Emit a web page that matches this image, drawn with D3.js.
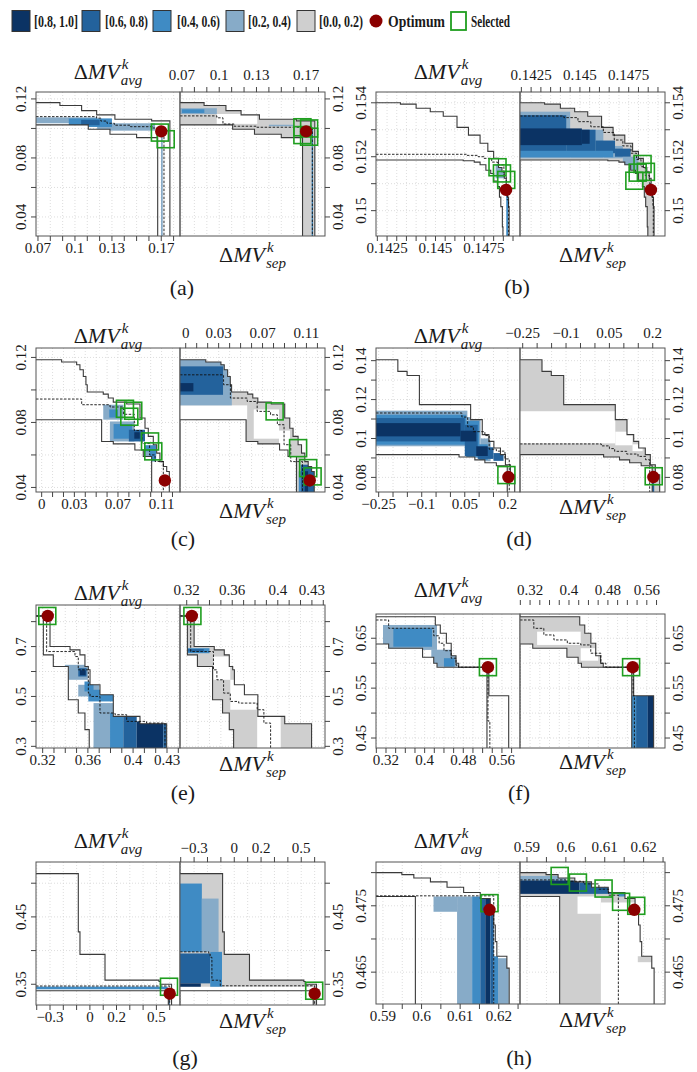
<!DOCTYPE html>
<html><head><meta charset="utf-8">
<script src="https://cdn.jsdelivr.net/npm/d3@7"></script>
<style>
body{margin:0;background:#fff;}
svg, svg text, svg tspan{font-family:"Liberation Serif","Times New Roman",Times,"DejaVu Serif",serif;}
svg text{fill:#1a1a1a;}
</style></head><body>
<svg id="chart" width="697" height="1072" font-family="Liberation Serif, Times New Roman, Times, serif"></svg>
<script>
// ---------------- DATA ----------------
// legend
const legendLabels = ['[0.8, 1.0]','[0.6, 0.8)','[0.4, 0.6)','[0.2, 0.4)','[0.0, 0.2)'];
const legendLevels = [4,3,2,1,0];
const levelColors = {'-1':'#ffffff','0':'#cfcfcf','1':'#87abc8','2':'#3f8bc4','3':'#23629c','4':'#0b3364'};

// (a)
const aXDom=[0.0684,0.1852], aYDom=[0.0271,0.1247];
const aXTicks=[0.07,0.08,0.09,0.1,0.11,0.12,0.13,0.14,0.15,0.16,0.17,0.18];
const aXLabels=[0.07,0.1,0.13,0.17];
const aYTicks=[0.04,0.06,0.08,0.1,0.12], aYLabels=[0.04,0.08,0.12];
const aBest=[[0.0684,0.1175],[0.0878,0.1155],[0.1054,0.1121],[0.1176,0.1092],[0.1324,0.1062],[0.1622,0.1051],[0.177,0.0271]];
const aWorst=[[0.0684,0.1024],[0.1108,0.0995],[0.1284,0.0961],[0.15,0.0938],[0.1671,0.0271]];
const aMedL=[[0.0684,0.108],[0.1176,0.107],[0.121,0.105],[0.126,0.1035],[0.132,0.1022],[0.145,0.1012],[0.163,0.1003],[0.1722,0.0271]];
const aMedR=[[0.0684,0.1085],[0.0981,0.1072],[0.103,0.103],[0.112,0.1015],[0.13,0.1008],[0.175,0.0271]];
const aFillL=[[0.0684,0.1035,0.118,0.1075,1],[0.118,0.0985,0.165,0.1035,1],[0.095,0.101,0.13,0.1068,2],[0.105,0.1022,0.12,0.1058,3],[0.1698,0.0271,0.1712,0.095,1]];
const aFillR=[[0.098,0.1031,0.1306,0.1098,-1],[0.0684,0.1098,0.0981,0.1137,1],[0.07,0.1105,0.088,0.113,2],[0.14,0.1015,0.16,0.1025,1],[0.1745,0.0271,0.1755,0.099,2]];
const aSelL=[[0.1689,0.0972],[0.1736,0.0927]];
const aSelR=[[0.167,0.1008],[0.1724,0.1],[0.1724,0.0944],[0.167,0.0955]];
const aOpt=[0.170,0.098];

// (b)
const bXDom=[0.14193,0.14936], bYDom=[0.14906,0.1544];
const bXTicks=[0.142,0.1425,0.143,0.1435,0.144,0.1445,0.145,0.1455,0.146,0.1465,0.147,0.1475,0.148,0.1485,0.149];
const bXLabels=[0.1425,0.145,0.1475];
const bYTicks=[0.15,0.151,0.152,0.153,0.154], bYLabels=[0.15,0.152,0.154];
const bBest=[[0.14193,0.154],[0.14319,0.15395],[0.1440,0.1538],[0.14473,0.15367],[0.1454,0.1535],[0.14611,0.15309],[0.1467,0.1528],[0.1473,0.1525],[0.1477,0.1522],[0.1480,0.15194],[0.14825,0.1516],[0.14843,0.15144],[0.14855,0.1512],[0.14865,0.15089],[0.14872,0.1505],[0.14877,0.15015],[0.1488,0.14906]];
const bWorst=[[0.14193,0.15188],[0.14643,0.15185],[0.147,0.1518],[0.1473,0.1517],[0.1476,0.1515],[0.14785,0.15138],[0.148,0.1511],[0.1482,0.15089],[0.1483,0.1505],[0.14837,0.15015],[0.14845,0.1494],[0.14848,0.14906]];
const bMedL=[[0.14193,0.15209],[0.14662,0.15205],[0.1472,0.152],[0.1475,0.15194],[0.1479,0.1518],[0.1482,0.1517],[0.14853,0.15127],[0.14865,0.1508],[0.1487,0.1504],[0.14877,0.14906]];
const bMedR=[[0.14193,0.15351],[0.14418,0.15345],[0.1449,0.1533],[0.14556,0.15311],[0.1462,0.1529],[0.14676,0.15262],[0.1472,0.1524],[0.14762,0.15213],[0.1479,0.1519],[0.14813,0.15163],[0.14835,0.1513],[0.14857,0.151],[0.14868,0.1505],[0.14874,0.15015],[0.14876,0.14906]];
const bFillL=[[0.1481,0.1512,0.1487,0.1517,1],[0.14865,0.14906,0.14875,0.151,2]];
const bFillR=[[0.14193,0.15194,0.1445,0.15367,1],[0.1445,0.15194,0.1462,0.1530,1],[0.1462,0.15194,0.1472,0.1524,1],[0.1472,0.1515,0.1480,0.1520,1],
  [0.14193,0.15213,0.1443,0.15354,3],[0.1443,0.15213,0.1458,0.1530,3],[0.1458,0.15213,0.1468,0.1526,3],[0.1468,0.1520,0.1476,0.1523,3],
  [0.14193,0.15198,0.1467,0.15222,2],[0.14193,0.15243,0.1451,0.15305,4],[0.1451,0.15248,0.1455,0.1530,4]];
const bSelL=[[0.1482,0.15161],[0.14843,0.15138],[0.14865,0.15114]];
const bSelR=[[0.14821,0.15173],[0.14796,0.15141],[0.14779,0.15111],[0.14838,0.15144]];
const bOpt=[0.14864,0.15077];

// (c)
const cXDom=[-0.0052,0.1269], cYDom=[0.0372,0.1258];
const cXTicks=[0,0.01,0.02,0.03,0.04,0.05,0.06,0.07,0.08,0.09,0.1,0.11,0.12];
const cXLabels=[0,0.03,0.07,0.11];
const cYTicks=[0.04,0.06,0.08,0.1,0.12], cYLabels=[0.04,0.08,0.12];
const cBest=[[-0.0052,0.1186],[0.0183,0.1172],[0.0321,0.1155],[0.0351,0.1124],[0.0382,0.1083],[0.0406,0.1032],[0.0418,0.0987],[0.0565,0.0974],[0.0611,0.095],[0.0657,0.0925],[0.078,0.0913],[0.0902,0.0827],[0.0948,0.0764],[0.0978,0.0714],[0.1024,0.0663],[0.1055,0.0611],[0.1085,0.0559],[0.1116,0.0529],[0.1147,0.0498],[0.1171,0.0372]];
const cWorst=[[-0.0052,0.0817],[0.055,0.0683],[0.0657,0.0668],[0.0855,0.063],[0.0932,0.059],[0.1009,0.0372]];
const cMedL=[[-0.0052,0.0944],[0.0367,0.0909],[0.0627,0.0895],[0.075,0.085],[0.085,0.075],[0.092,0.067],[0.099,0.06],[0.104,0.056],[0.1116,0.0372]];
const cMedR=[[-0.0052,0.1093],[0.0345,0.1032],[0.0407,0.095],[0.056,0.0929],[0.0651,0.0868],[0.0773,0.0847],[0.0835,0.0786],[0.0896,0.0663],[0.0957,0.0559],[0.1064,0.0372]];
const cFillL=[[0.0565,0.0817,0.075,0.0909,1],[0.062,0.083,0.07,0.088,2],[0.0626,0.0683,0.085,0.0806,1],[0.066,0.070,0.083,0.079,2],[0.080,0.0683,0.0948,0.0755,3],[0.085,0.070,0.090,0.074,4],[0.0948,0.056,0.105,0.066,2],[0.094,0.056,0.099,0.0622,1]];
const cFillR=[[-0.0052,0.0817,0.056,0.0905,-1],[0.062,0.070,0.085,0.088,-1],[0.085,0.060,0.095,0.075,-1],
  [-0.0052,0.0905,0.042,0.1186,1],[-0.0052,0.097,0.034,0.1145,3],[-0.0052,0.0991,0.007,0.1042,4],
  [0.103,0.0372,0.1049,0.05,2],[0.1049,0.0372,0.117,0.054,3],[0.1085,0.0372,0.1115,0.05,4]];
const cSelL=[[0.0764,0.0884],[0.084,0.0872],[0.0804,0.0835],[0.0994,0.0683],[0.1024,0.0622]];
const cSelR=[[0.081,0.0868],[0.1024,0.0642],[0.1116,0.0519],[0.1156,0.0468]];
const cOpt=[0.113,0.0443];

// (d)
const dXDom=[-0.2593,0.2424], dYDom=[0.0725,0.1465];
const dXTicks=[-0.25,-0.2,-0.15,-0.1,-0.05,0,0.05,0.1,0.15,0.2];
const dXLabels=[-0.25,-0.1,0.05,0.2];
const dYTicks=[0.08,0.09,0.1,0.11,0.12,0.13,0.14], dYLabels=[0.08,0.1,0.12,0.14];
const dBest=[[-0.2593,0.1405],[-0.1832,0.1345],[-0.151,0.1324],[-0.1081,0.1174],[0.0704,0.1097],[0.1109,0.102],[0.1341,0.0985],[0.1514,0.0951],[0.1743,0.0917],[0.1916,0.0865],[0.2089,0.0814],[0.224,0.0725]];
const dWorst=[[-0.2593,0.0917],[0.03,0.0905],[0.085,0.089],[0.12,0.0875],[0.16,0.086],[0.198,0.0725]];
const dMedL=[[-0.2593,0.1131],[0.04,0.111],[0.06,0.106],[0.08,0.1035],[0.12,0.1015],[0.135,0.0945],[0.16,0.0935],[0.19,0.0895],[0.205,0.0725]];
const dMedR=[[-0.2593,0.0972],[0.022,0.0962],[0.05,0.0948],[0.0683,0.0934],[0.11,0.092],[0.149,0.0908],[0.175,0.0891],[0.1894,0.0725]];
const dFillL=[[-0.2593,0.096,0.059,0.1143,1],[0.059,0.090,0.105,0.111,1],[0.105,0.0883,0.14,0.100,1],
  [-0.2593,0.0968,0.055,0.1122,2],[0.055,0.0905,0.10,0.109,2],[0.10,0.089,0.13,0.097,2],
  [-0.2593,0.0985,0.05,0.1105,3],[0.05,0.091,0.095,0.107,3],[0.095,0.0895,0.15,0.0955,3],[0.15,0.0885,0.185,0.0925,3],
  [-0.2593,0.1011,0.035,0.1079,4],[0.035,0.0985,0.09,0.104,4],[0.09,0.091,0.13,0.096,4]];
const dFillR=[[-0.2593,0.0975,0.0704,0.1140,-1],[0.0704,0.0965,0.13,0.1035,-1],[0.13,0.0935,0.165,0.097,-1],[0.195,0.0725,0.205,0.078,3]];
const dSelL=[[0.195,0.0812]], dSelR=[[0.2033,0.0806]];
const dOpt=[0.202,0.0802];

// (e)
const eXDom=[0.3141,0.4415], eYDom=[0.2933,0.8667];
const eXTicks=[0.32,0.33,0.34,0.35,0.36,0.37,0.38,0.39,0.4,0.41,0.42,0.43,0.44];
const eXLabels=[0.32,0.36,0.4,0.43];
const eYTicks=[0.3,0.4,0.5,0.6,0.7,0.8], eYLabels=[0.3,0.5,0.7];
const eBest=[[0.3141,0.8228],[0.3265,0.7],[0.3442,0.6867],[0.353,0.6668],[0.3574,0.62],[0.3604,0.6068],[0.3619,0.5468],[0.3707,0.5068],[0.3825,0.42],[0.4061,0.3908],[0.4297,0.2933]];
const eWorst=[[0.3141,0.8228],[0.3206,0.6668],[0.3294,0.62],[0.3427,0.4868],[0.3515,0.4336],[0.3574,0.3668],[0.3612,0.2933]];
const eMedL=[[0.3141,0.8228],[0.3235,0.68],[0.3486,0.66],[0.3515,0.6068],[0.3604,0.5135],[0.3619,0.5],[0.3707,0.4336],[0.384,0.4268],[0.3943,0.4],[0.4119,0.3934],[0.4282,0.2933]];
const eMedR=[[0.3141,0.8228],[0.3235,0.68],[0.3435,0.6068],[0.3465,0.5668],[0.3524,0.5135],[0.3583,0.48],[0.3657,0.4734],[0.3819,0.4468],[0.3878,0.3934],[0.3937,0.2933]];
const eFillL=[[0.3397,0.5668,0.36,0.6268,1],[0.3515,0.58,0.3589,0.6134,3],[0.353,0.585,0.358,0.605,4],[0.3515,0.5,0.37,0.5468,1],[0.357,0.52,0.365,0.56,2],[0.3604,0.48,0.3825,0.5268,2],
  [0.365,0.2933,0.3796,0.4734,1],[0.3796,0.2933,0.3913,0.4336,2],[0.3796,0.4336,0.39,0.4734,1],[0.3913,0.2933,0.4032,0.42,3],[0.4032,0.2933,0.4267,0.40,4],[0.4267,0.2933,0.4297,0.39,3]];
const eFillR=[[0.3435,0.5668,0.3583,0.66,-1],[0.3583,0.4468,0.3849,0.5668,-1],[0.3819,0.2933,0.4026,0.4468,-1],[0.3835,0.4535,0.387,0.4734,1],[0.3141,0.6734,0.34,0.6934,2],[0.32,0.68,0.335,0.69,3]];
const eSelL=[[0.3241,0.8228]], eSelR=[[0.325,0.8228]];
const eOpt=[0.3245,0.8228];

// (f)
const fXDom=[0.2993,0.5974], fYDom=[0.43,0.6986];
const fXTicks=[0.30,0.32,0.34,0.36,0.38,0.40,0.42,0.44,0.46,0.48,0.50,0.52,0.54,0.56,0.58];
const fXLabels=[0.32,0.4,0.48,0.56];
const fYTicks=[0.45,0.5,0.55,0.6,0.65,0.7], fYLabels=[0.45,0.55,0.65];
const fBest=[[0.2993,0.6932],[0.4221,0.6766],[0.4324,0.66],[0.445,0.64],[0.455,0.615],[0.465,0.60],[0.4705,0.592],[0.533,0.5346],[0.574,0.43]];
const fWorst=[[0.2993,0.6386],[0.3255,0.63],[0.3957,0.612],[0.4188,0.60],[0.4256,0.592],[0.529,0.43]];
const fMedL=[[0.2993,0.6866],[0.3255,0.67],[0.4188,0.655],[0.43,0.64],[0.44,0.625],[0.455,0.61],[0.465,0.596],[0.47,0.592],[0.5311,0.484],[0.535,0.43]];
const fMedR=[[0.2993,0.6866],[0.3277,0.6699],[0.3483,0.6566],[0.3691,0.6466],[0.3966,0.64],[0.4241,0.6366],[0.4448,0.62],[0.4656,0.6],[0.4759,0.592],[0.5318,0.5346],[0.5345,0.43]];
const fFillL=[[0.3138,0.6266,0.4256,0.6766,1],[0.3352,0.633,0.4153,0.6699,2],[0.4138,0.593,0.468,0.627,1],[0.44,0.593,0.462,0.61,2]];
const fFillR=[[0.3345,0.6366,0.4241,0.6632,-1],[0.4241,0.605,0.46,0.63,-1],[0.529,0.43,0.538,0.5346,2],[0.538,0.43,0.562,0.5346,3],[0.562,0.43,0.5747,0.5346,4]];
const fSelL=[[0.531,0.592]], fSelR=[[0.5277,0.592]];
const fOpt=[0.531,0.592];

// (g)
const gXDom=[-0.4053,0.6774], gYDom=[0.3192,0.5315];
const gXTicks=[-0.4,-0.3,-0.2,-0.1,0,0.1,0.2,0.3,0.4,0.5,0.6];
const gXLabels=[-0.3,0,0.2,0.5];
const gYTicks=[0.35,0.4,0.45,0.5], gYLabels=[0.35,0.45];
const gBest=[[-0.4053,0.5143],[-0.0872,0.4278],[-0.0747,0.3943],[0.1135,0.3562],[0.5195,0.354],[0.53,0.35],[0.614,0.3192]];
const gWorst=[[-0.4053,0.3404],[0.5895,0.3192]];
const gMedL=[[-0.4053,0.3474],[0.60,0.3192]];
const gMedR=[[-0.4053,0.3981],[-0.19,0.395],[-0.18,0.39],[-0.167,0.356],[-0.1045,0.3477],[0.60,0.3192]];
const gFillL=[[-0.4053,0.3425,0.585,0.3465,2],[0.585,0.3192,0.60,0.335,3]];
const gFillR=[[-0.4053,0.3404,0.59,0.3463,-1],[-0.4053,0.3981,-0.2421,0.4995,2],[-0.2421,0.3981,-0.1173,0.4772,1],[-0.4053,0.3513,-0.1797,0.3957,3],[-0.1797,0.3463,-0.0917,0.3981,2],[-0.4053,0.3463,-0.25,0.3513,4]];
const gSelL=[[0.5947,0.3463]], gSelR=[[0.597,0.3404]];
const gOpt=[0.6,0.336];

// (h)
const hXDom=[0.5882,0.6255], hYDom=[0.4602,0.4816];
const hXTicks=[0.59,0.595,0.6,0.605,0.61,0.615,0.62,0.625];
const hXLabels=[0.59,0.6,0.61,0.62];
const hYTicks=[0.465,0.47,0.475,0.48], hYLabels=[0.465,0.475];
const hBest=[[0.5882,0.48],[0.5949,0.4797],[0.598,0.4792],[0.6023,0.4786],[0.6066,0.4778],[0.6109,0.477],[0.6152,0.4761],[0.6178,0.4741],[0.6187,0.4721],[0.6191,0.4696],[0.6195,0.4674],[0.6221,0.4656],[0.6227,0.4602]];
const hWorst=[[0.5882,0.4764],[0.5984,0.4602]];
const hMedL=[[0.5882,0.4765],[0.6187,0.4602]];
const hMedR=[[0.5882,0.4789],[0.6,0.4787],[0.6045,0.4783],[0.6085,0.4775],[0.611,0.4766],[0.6135,0.4602]];
const hFillL=[[0.6031,0.4741,0.6092,0.4764,1],[0.6092,0.4602,0.6131,0.4764,1],[0.6131,0.4602,0.6152,0.4764,2],[0.6152,0.4602,0.6165,0.4764,3],[0.6165,0.4602,0.6178,0.4762,4],[0.6178,0.4602,0.6187,0.474,3],[0.6187,0.4602,0.6198,0.4674,2],[0.6198,0.4602,0.6226,0.4671,1]];
const hFillR=[[0.609,0.4602,0.6227,0.4755,-1],[0.603,0.4738,0.609,0.4764,-1],[0.6185,0.4665,0.6221,0.4674,0],[0.5882,0.4785,0.6,0.4795,1],[0.5882,0.4768,0.6035,0.4788,4],[0.6035,0.4768,0.6135,0.4785,3],[0.6135,0.4764,0.6155,0.4775,2]];
const hSelL=[[0.6176,0.4754]];
const hSelR=[[0.5984,0.4795],[0.6031,0.4785],[0.6097,0.4776],[0.6142,0.4756],[0.6181,0.475]];
const hOpt=[0.6176,0.4744];

// ---------------- LAYOUT ----------------
const layout=[
 {id:'a',x0:36,xm:180,x1:325,top:92,bottom:236,axisTop:92,titleY:79,topLabY:75,sepY:262,capX:182,capY:287},
 {id:'b',x0:376,xm:520,x1:665,top:92,bottom:236,axisTop:92,titleY:79,topLabY:75,sepY:262,capX:517,capY:286},
 {id:'c',x0:36,xm:180,x1:325,top:348,bottom:492,axisTop:348,titleY:343,topLabY:333,sepY:518,capX:183,capY:538},
 {id:'d',x0:376,xm:520,x1:665,top:348,bottom:492,axisTop:348,titleY:343,topLabY:333,sepY:514,capX:519,capY:538},
 {id:'e',x0:36,xm:180,x1:325,top:605,bottom:748,axisTop:605,titleY:600,topLabY:590,sepY:771,capX:183,capY:792},
 {id:'f',x0:376,xm:520,x1:665,top:614,bottom:748,axisTop:605,titleY:597,topLabY:590,sepY:769,capX:519,capY:792},
 {id:'g',x0:36,xm:180,x1:325,top:862,bottom:1005,axisTop:862,titleY:848,topLabY:848,sepY:1028,capX:185,capY:1057},
 {id:'h',x0:376,xm:520,x1:665,top:862,bottom:1004,axisTop:862,titleY:848,topLabY:847,sepY:1027,capX:519,capY:1057}
];
const panelData={
 a:{xDom:aXDom,yDom:aYDom,xTicks:aXTicks,xLabels:aXLabels,yTicks:aYTicks,yLabels:aYLabels,best:aBest,worst:aWorst,medL:aMedL,medR:aMedR,fillL:aFillL,fillR:aFillR,selL:aSelL,selR:aSelR,opt:aOpt},
 b:{xDom:bXDom,yDom:bYDom,xTicks:bXTicks,xLabels:bXLabels,yTicks:bYTicks,yLabels:bYLabels,best:bBest,worst:bWorst,medL:bMedL,medR:bMedR,fillL:bFillL,fillR:bFillR,selL:bSelL,selR:bSelR,opt:bOpt},
 c:{xDom:cXDom,yDom:cYDom,xTicks:cXTicks,xLabels:cXLabels,yTicks:cYTicks,yLabels:cYLabels,best:cBest,worst:cWorst,medL:cMedL,medR:cMedR,fillL:cFillL,fillR:cFillR,selL:cSelL,selR:cSelR,opt:cOpt},
 d:{xDom:dXDom,yDom:dYDom,xTicks:dXTicks,xLabels:dXLabels,yTicks:dYTicks,yLabels:dYLabels,best:dBest,worst:dWorst,medL:dMedL,medR:dMedR,fillL:dFillL,fillR:dFillR,selL:dSelL,selR:dSelR,opt:dOpt},
 e:{xDom:eXDom,yDom:eYDom,xTicks:eXTicks,xLabels:eXLabels,yTicks:eYTicks,yLabels:eYLabels,best:eBest,worst:eWorst,medL:eMedL,medR:eMedR,fillL:eFillL,fillR:eFillR,selL:eSelL,selR:eSelR,opt:eOpt},
 f:{xDom:fXDom,yDom:fYDom,xTicks:fXTicks,xLabels:fXLabels,yTicks:fYTicks,yLabels:fYLabels,best:fBest,worst:fWorst,medL:fMedL,medR:fMedR,fillL:fFillL,fillR:fFillR,selL:fSelL,selR:fSelR,opt:fOpt},
 g:{xDom:gXDom,yDom:gYDom,xTicks:gXTicks,xLabels:gXLabels,yTicks:gYTicks,yLabels:gYLabels,best:gBest,worst:gWorst,medL:gMedL,medR:gMedR,fillL:gFillL,fillR:gFillR,selL:gSelL,selR:gSelR,opt:gOpt},
 h:{xDom:hXDom,yDom:hYDom,xTicks:hXTicks,xLabels:hXLabels,yTicks:hYTicks,yLabels:hYLabels,best:hBest,worst:hWorst,medL:hMedL,medR:hMedR,fillL:hFillL,fillR:hFillR,selL:hSelL,selR:hSelR,opt:hOpt}
};

// ---------------- DRAW ----------------
const FONT='Liberation Serif, Times New Roman, Times, serif';
const svg=d3.select('#chart');
const defs=svg.append('defs');
const SQ=17, OPT_R=6.2, GREEN='#1f9e1f', RED='#8b0000';
const fmt=v=>String(+v.toFixed(6)).replace('-','\u2212');
function expandStep(p){const v=[p[0]];for(let i=1;i<p.length;i++){v.push([p[i][0],p[i-1][1]]);v.push(p[i]);}return v;}
function inDom(t,dom){return t>=Math.min(dom[0],dom[1])-1e-9&&t<=Math.max(dom[0],dom[1])+1e-9;}

function drawSide(P,D,side,x,y){
  const idx=P.id+side;
  const band=expandStep(D.best).concat(expandStep(D.worst).reverse());
  const bandPath='M'+band.map(d=>x(d[0])+','+y(d[1])).join('L')+'Z';
  defs.append('clipPath').attr('id','band'+idx).append('path').attr('d',bandPath);
  const [rx0,rx1]=x.range();
  defs.append('clipPath').attr('id','box'+idx).append('rect').attr('x',rx0).attr('y',P.top).attr('width',rx1-rx0).attr('height',P.bottom-P.top);
  const g=svg.append('g');
  const gg=g.append('g').attr('stroke','#d4d4d4').attr('stroke-width',0.8).attr('stroke-dasharray','1,2');
  D.xTicks.filter(t=>inDom(t,D.xDom)).forEach(t=>gg.append('line').attr('x1',x(t)).attr('x2',x(t)).attr('y1',P.top).attr('y2',P.bottom));
  D.yTicks.filter(t=>inDom(t,D.yDom)).forEach(t=>gg.append('line').attr('y1',y(t)).attr('y2',y(t)).attr('x1',rx0).attr('x2',rx1));
  const fg=g.append('g').attr('clip-path','url(#band'+idx+')');
  if(side==='R') fg.append('path').attr('d',bandPath).attr('fill',levelColors['0']);
  (side==='L'?D.fillL:D.fillR).forEach(r=>{
    fg.append('rect').attr('x',x(r[0])).attr('y',y(r[3])).attr('width',Math.max(0,x(r[2])-x(r[0]))).attr('height',Math.max(0,y(r[1])-y(r[3]))).attr('fill',levelColors[String(r[4])]);
  });
  const lg=g.append('g').attr('clip-path','url(#box'+idx+')').attr('fill','none');
  const line=d3.line().x(d=>x(d[0])).y(d=>y(d[1])).curve(d3.curveStepAfter);
  lg.append('path').attr('d',line(D.best)).attr('stroke','#3a3a3a').attr('stroke-width',1.1);
  lg.append('path').attr('d',line(D.worst)).attr('stroke','#3a3a3a').attr('stroke-width',1.1);
  lg.append('path').attr('d',line(side==='L'?D.medL:D.medR)).attr('stroke','#111').attr('stroke-width',0.9).attr('stroke-dasharray','2.5,1.5');
  g.append('rect').attr('x',rx0).attr('y',P.top).attr('width',rx1-rx0).attr('height',P.bottom-P.top).attr('fill','none').attr('stroke','#555').attr('stroke-width',1);
  (side==='L'?D.selL:D.selR).forEach(s=>{
    g.append('rect').attr('x',x(s[0])-SQ/2).attr('y',y(s[1])-SQ/2).attr('width',SQ).attr('height',SQ).attr('fill','none').attr('stroke',GREEN).attr('stroke-width',1.6);
  });
  g.append('circle').attr('cx',x(D.opt[0])).attr('cy',y(D.opt[1])).attr('r',OPT_R).attr('fill',RED);
}

function mvLabel(cx,by,sub){
  const t=svg.append('text').attr('y',by).attr('font-size',22).attr('font-family',FONT);
  t.append('tspan').text('\u0394');
  t.append('tspan').attr('font-style','italic').text('MV');
  const w=t.node().getComputedTextLength();
  const k=svg.append('text').attr('font-size',15).attr('font-family',FONT).attr('font-style','italic').attr('y',by-10).text('k');
  const s=svg.append('text').attr('font-size',15).attr('font-family',FONT).attr('font-style','italic').attr('y',by+6).text(sub);
  const ws=Math.max(k.node().getComputedTextLength(),s.node().getComputedTextLength());
  const x0=cx-(w+1+ws)/2;
  t.attr('x',x0);k.attr('x',x0+w+2);s.attr('x',x0+w+1);
}

layout.forEach(P=>{
  const D=panelData[P.id];
  const xL=d3.scaleLinear().domain(D.xDom).range([P.x0,P.xm]);
  const xR=d3.scaleLinear().domain(D.xDom).range([P.xm,P.x1]);
  const y=d3.scaleLinear().domain(D.yDom).range([P.bottom,P.top]);
  drawSide(P,D,'L',xL,y);
  drawSide(P,D,'R',xR,y);
  const ax=svg.append('g').attr('stroke','#444').attr('stroke-width',1);
  const xt=D.xTicks.filter(t=>inDom(t,D.xDom)), yt=D.yTicks.filter(t=>inDom(t,D.yDom));
  xt.forEach(t=>{
    ax.append('line').attr('x1',xL(t)).attr('x2',xL(t)).attr('y1',P.bottom).attr('y2',P.bottom+5);
    ax.append('line').attr('x1',xR(t)).attr('x2',xR(t)).attr('y1',P.axisTop).attr('y2',P.axisTop-5);
  });
  yt.forEach(t=>{
    ax.append('line').attr('x1',P.x0).attr('x2',P.x0-5).attr('y1',y(t)).attr('y2',y(t));
    ax.append('line').attr('x1',P.x1).attr('x2',P.x1+5).attr('y1',y(t)).attr('y2',y(t));
  });
  const lab=svg.append('g').attr('font-size',15).attr('font-family',FONT).attr('text-anchor','middle');
  D.xLabels.forEach(v=>{
    lab.append('text').attr('x',xL(v)).attr('y',P.bottom+12).attr('dominant-baseline','central').text(fmt(v));
    lab.append('text').attr('x',xR(v)).attr('y',P.topLabY).attr('dominant-baseline','central').text(fmt(v));
  });
  D.yLabels.forEach(v=>{
    lab.append('text').attr('transform','translate('+(P.x0-15)+','+y(v)+') rotate(-90)').attr('dominant-baseline','central').text(fmt(v));
    lab.append('text').attr('transform','translate('+(P.x1+13)+','+y(v)+') rotate(-90)').attr('dominant-baseline','central').text(fmt(v));
  });
  mvLabel((P.x0+P.xm)/2,P.titleY,'avg');
  mvLabel((P.xm+P.x1)/2,P.sepY,'sep');
  svg.append('text').attr('x',P.capX).attr('y',P.capY).attr('font-size',22).attr('font-family',FONT).attr('text-anchor','middle').attr('dominant-baseline','central').text('('+P.id+')');
});

// legend
const legSqX=[12,82,153,226,297], legTxX=[34,105,177,248,319], legTxW=[44,43,43,43,44];
const leg=svg.append('g').attr('font-family',FONT);
legendLabels.forEach((l,i)=>{
  leg.append('rect').attr('x',legSqX[i]).attr('y',10.5).attr('width',18).attr('height',21).attr('fill',levelColors[String(legendLevels[i])]).attr('stroke','#333').attr('stroke-width',1);
  leg.append('text').attr('x',legTxX[i]).attr('y',27).attr('font-size',16).attr('font-weight','bold').attr('textLength',legTxW[i]).attr('lengthAdjust','spacingAndGlyphs').text(l);
});
leg.append('circle').attr('cx',376).attr('cy',21).attr('r',6.5).attr('fill',RED);
leg.append('text').attr('x',388).attr('y',27).attr('font-size',16).attr('font-weight','bold').attr('textLength',57).attr('lengthAdjust','spacingAndGlyphs').text('Optimum');
leg.append('rect').attr('x',451).attr('y',12).attr('width',15).attr('height',18).attr('fill','none').attr('stroke',GREEN).attr('stroke-width',1.8);
leg.append('text').attr('x',471).attr('y',27).attr('font-size',16).attr('font-weight','bold').attr('textLength',39).attr('lengthAdjust','spacingAndGlyphs').text('Selected');
</script></body></html>
